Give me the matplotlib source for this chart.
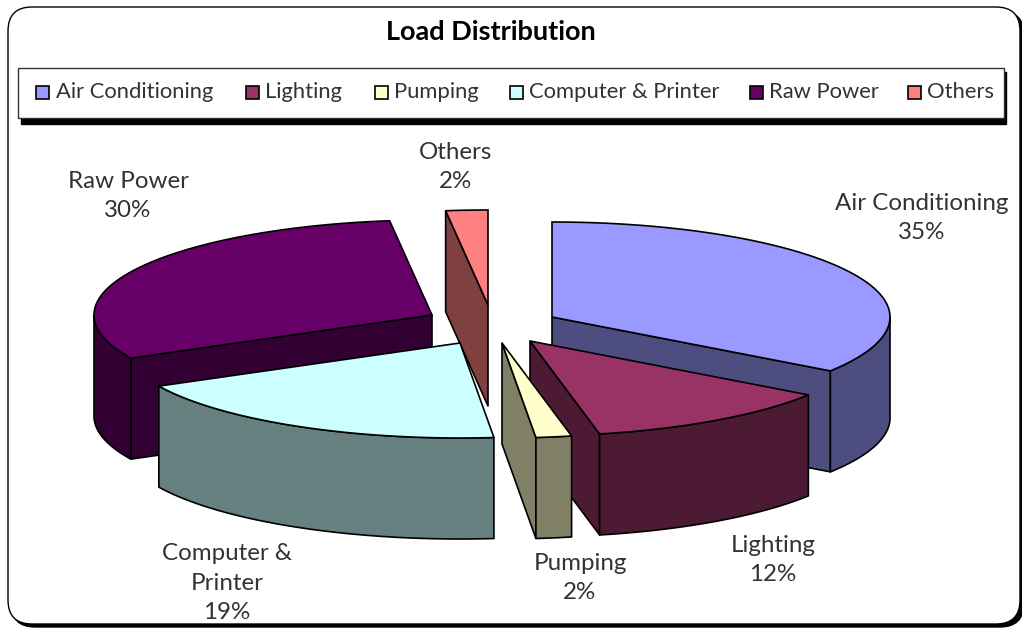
import numpy as np
import matplotlib
matplotlib.use('Agg')
import matplotlib.pyplot as plt
from matplotlib.patches import FancyBboxPatch, Rectangle

plt.rcParams['font.family'] = ['Lato', 'DejaVu Sans']

title = 'Load Distribution'
categories = ['Air Conditioning', 'Lighting', 'Pumping', 'Computer & Printer', 'Raw Power', 'Others']
point_labels = ['Air Conditioning', 'Lighting', 'Pumping', 'Computer &\nPrinter', 'Raw Power', 'Others']
shares = [34.6, 12.1, 1.7, 19.1, 30.5, 2.0]
colors = ['#9999FF', '#993366', '#FFFFCC', '#CCFFFF', '#660066', '#FF8080']
side_colors = ['#4D4D80', '#4D1A33', '#808066', '#668080', '#330033', '#804040']

# layout, all in pixels of the 1022x628 picture
tips = [(552, 317), (530, 341), (502, 343), (460, 343), (432, 315), (488, 305)]
label_pos = [(922, 218), (773, 560), (580, 578), (227, 583), (128, 196), (456, 167)]
legend_box_x = [35, 245, 374, 509, 749, 907]
legend_text_x = [56, 265, 394, 529, 769, 927]
draw_order = [5, 4, 0, 3, 1, 2]
RX, RY, DEPTH = 338, 95, 101


def arc(tip, a0, a1):
    t = np.radians(np.linspace(a0, a1, 80))
    return tip[0] + RX * np.sin(t), tip[1] - RY * np.cos(t)


def face(ax, xs, ys, color):
    xs = np.asarray(xs, dtype=float)
    ys = np.asarray(ys, dtype=float)
    ax.fill(np.r_[xs, xs[::-1]], np.r_[ys, ys[::-1] + DEPTH], facecolor=color,
            edgecolor='black', linewidth=1.2, joinstyle='round')


fig = plt.figure(figsize=(10.22, 6.28), dpi=100)
ax = fig.add_axes([0, 0, 1, 1])
ax.set_xlim(0, 1022)
ax.set_ylim(628, 0)
ax.axis('off')

# chart frame with its shadow
ax.add_patch(FancyBboxPatch((11, 11), 1013, 616, boxstyle='round,pad=0,rounding_size=24',
                            facecolor='black', edgecolor='black', linewidth=1))
ax.add_patch(FancyBboxPatch((8, 7), 1012, 617, boxstyle='round,pad=0,rounding_size=24',
                            facecolor='white', edgecolor='black', linewidth=1))
ax.text(491, 32, title, ha='center', va='center', fontsize=19.5, fontweight='bold')

# legend
ax.add_patch(Rectangle((21, 72), 985, 52, facecolor='black', edgecolor='black'))
ax.add_patch(Rectangle((18, 68), 986, 50, facecolor='white', edgecolor='#333333', linewidth=1))
for i, name in enumerate(categories):
    ax.add_patch(Rectangle((legend_box_x[i] + 0.5, 85.5), 13, 13, facecolor=colors[i],
                           edgecolor='black', linewidth=1.2))
    ax.text(legend_text_x[i], 92, name, ha='left', va='center', fontsize=15.8, color='#333333')

# exploded pie, each slice: cut faces, then rim, then top
ends = np.cumsum(shares) * 3.6
starts = np.r_[0, ends[:-1]]
for i in draw_order:
    a0, a1 = starts[i], ends[i]
    tip = tips[i]
    if a0 > 180 and a0 < 360:
        x, y = arc(tip, a0, a0)
        face(ax, [tip[0], x[0]], [tip[1], y[0]], side_colors[i])
    if a1 > 0 and a1 < 180:
        x, y = arc(tip, a1, a1)
        face(ax, [tip[0], x[0]], [tip[1], y[0]], side_colors[i])
    lo, hi = max(a0, 90), min(a1, 270)
    if lo < hi:
        x, y = arc(tip, lo, hi)
        face(ax, x, y, side_colors[i])
    x, y = arc(tip, a0, a1)
    ax.fill(np.r_[tip[0], x], np.r_[tip[1], y], facecolor=colors[i], edgecolor='black',
            linewidth=1.2)

# data labels
for i, name in enumerate(point_labels):
    text = name + '\n' + str(round(shares[i])) + '%'
    ax.text(label_pos[i][0], label_pos[i][1], text, ha='center', va='center', fontsize=17.4,
            color='#333333', linespacing=1.5)

fig.savefig('out.png', dpi=100)
